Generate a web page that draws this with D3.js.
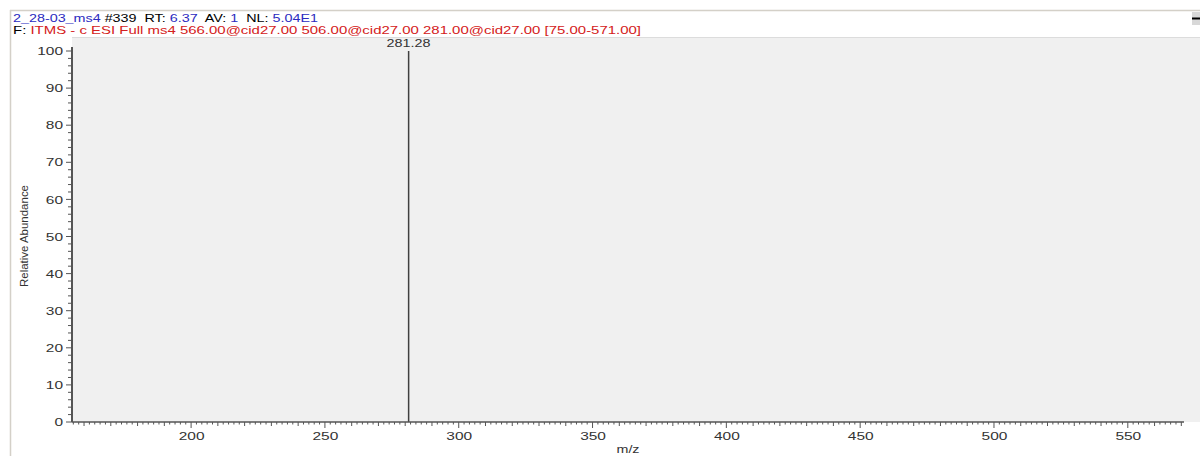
<!DOCTYPE html>
<html>
<head>
<meta charset="utf-8">
<script src="https://cdn.jsdelivr.net/npm/d3@7"></script>
<style>
  body { margin: 0; background: #fff; }
  svg { display: block; font-family: "Liberation Sans", Arial, sans-serif; }
</style>
</head>
<body>
<div id="chart"></div>
<script>
// spectrum data
const peakMz = [281.28];
const peakAbundance = [100];
const peakLabels = ["281.28"];
const xTicks = [200, 250, 300, 350, 400, 450, 500, 550];
const yTicks = [0, 10, 20, 30, 40, 50, 60, 70, 80, 90, 100];
const headerLine1 = [
  { t: "2_28-03_ms4", c: "#2b2bc0" }, { t: " #339  RT: ", c: "#000" }, { t: "6.37", c: "#2b2bc0" },
  { t: "  AV: ", c: "#000" }, { t: "1", c: "#2b2bc0" }, { t: "  NL: ", c: "#000" }, { t: "5.04E1", c: "#2b2bc0" }
];
const headerLine2 = [
  { t: "F: ", c: "#000" },
  { t: "ITMS - c ESI Full ms4 566.00@cid27.00 506.00@cid27.00 281.00@cid27.00 [75.00-571.00]", c: "#d42020" }
];

const width = 1200, height = 456;
const margin = { top: 37, right: 16, bottom: 34, left: 72 };
const charW = 8.6; // the original font is wide, so stretch labels

const svg = d3.select("#chart").append("svg")
  .attr("width", width).attr("height", height);

// frame
svg.append("line").attr("x1", 10.5).attr("x2", 10.5).attr("y1", 10).attr("y2", height)
  .attr("stroke", "#d4d0c8").attr("stroke-width", 1.5);
svg.append("line").attr("x1", 10).attr("x2", width).attr("y1", 10.5).attr("y2", 10.5)
  .attr("stroke", "#d4d0c8").attr("stroke-width", 1.5);
svg.append("rect").attr("x", 1192).attr("y", 12).attr("width", 8).attr("height", 13).attr("fill", "#d8d8d8");
svg.append("line").attr("x1", 1192).attr("x2", 1200).attr("y1", 18.5).attr("y2", 18.5).attr("stroke", "#000").attr("stroke-width", 2);

// header text
const h1 = svg.append("text").attr("x", 13).attr("y", 22).attr("font-size", 11.5)
  .attr("textLength", 305).attr("lengthAdjust", "spacingAndGlyphs");
h1.selectAll("tspan").data(headerLine1).join("tspan").attr("fill", d => d.c).attr("xml:space", "preserve").text(d => d.t);
const h2 = svg.append("text").attr("x", 13).attr("y", 34).attr("font-size", 11.5)
  .attr("textLength", 628).attr("lengthAdjust", "spacingAndGlyphs");
h2.selectAll("tspan").data(headerLine2).join("tspan").attr("fill", d => d.c).attr("xml:space", "preserve").text(d => d.t);

// plot background
svg.append("rect")
  .attr("x", margin.left).attr("y", margin.top)
  .attr("width", width - margin.left).attr("height", height - margin.bottom - margin.top)
  .attr("fill", "#f0f0f0");
svg.append("line").attr("x1", margin.left).attr("x2", width).attr("y1", margin.top + 0.5).attr("y2", margin.top + 0.5)
  .attr("stroke", "#dcdcdc");

const xScale = d3.scaleLinear()
  .domain([155.5, 571])
  .range([margin.left, width - margin.right]);

const yScale = d3.scaleLinear()
  .domain([0, 100])
  .range([422, 51]);

// peaks
svg.selectAll(".peak").data(peakMz).join("line")
  .attr("class", "peak")
  .attr("x1", d => xScale(d)).attr("x2", d => xScale(d))
  .attr("y1", yScale(0)).attr("y2", (d, i) => yScale(peakAbundance[i]))
  .attr("stroke", "#404040").attr("stroke-width", 1.5);

svg.selectAll(".plabel").data(peakMz).join("text")
  .attr("class", "plabel")
  .attr("x", d => xScale(d)).attr("y", (d, i) => yScale(peakAbundance[i]) - 4)
  .attr("text-anchor", "middle").attr("font-size", 11.5).attr("fill", "#333")
  .attr("textLength", 44).attr("lengthAdjust", "spacingAndGlyphs")
  .text((d, i) => peakLabels[i]);

// x axis
const axisColor = "#555";
const xg = svg.append("g").attr("transform", `translate(0, ${yScale(0)})`);
xg.append("line").attr("x1", margin.left).attr("x2", xScale(571)).attr("stroke", axisColor).attr("stroke-width", 1.5);
const xMinor = d3.range(156, 571, 2);
xg.selectAll(".xm").data(xMinor).join("line")
  .attr("x1", d => xScale(d)).attr("x2", d => xScale(d))
  .attr("y1", 0).attr("y2", d => d % 50 === 0 ? 6 : d % 10 === 0 ? 4 : 2.5)
  .attr("stroke", axisColor);
xg.call(g => g.append("g").call(d3.axisBottom(xScale).tickValues(xTicks).tickSize(0).tickPadding(10))
  .call(a => a.select(".domain").remove())
  .call(a => a.selectAll("text").attr("font-size", 11.5).attr("fill", "#333")
    .attr("font-family", "Liberation Sans, Arial, sans-serif")
    .attr("textLength", d => String(d).length * charW).attr("lengthAdjust", "spacingAndGlyphs")));

// y axis
const yg = svg.append("g").attr("transform", `translate(${margin.left}, 0)`);
yg.append("line").attr("y1", margin.top + 10).attr("y2", yScale(0)).attr("stroke", axisColor).attr("stroke-width", 2);
const yMinor = d3.range(0, 101, 2);
yg.selectAll(".ym").data(yMinor).join("line")
  .attr("y1", d => yScale(d)).attr("y2", d => yScale(d))
  .attr("x1", 0).attr("x2", d => d % 10 === 0 ? -6 : -4)
  .attr("stroke", axisColor);
yg.call(g => g.append("g").call(d3.axisLeft(yScale).tickValues(yTicks).tickSize(0).tickPadding(9))
  .call(a => a.select(".domain").remove())
  .call(a => a.selectAll("text").attr("font-size", 11.5).attr("fill", "#333")
    .attr("font-family", "Liberation Sans, Arial, sans-serif")
    .attr("textLength", d => String(d).length * charW).attr("lengthAdjust", "spacingAndGlyphs")));

// axis titles
svg.append("text")
  .attr("transform", `translate(28, 236) rotate(-90)`)
  .attr("text-anchor", "middle").attr("font-size", 11.5).attr("fill", "#333")
  .attr("textLength", 102).attr("lengthAdjust", "spacingAndGlyphs")
  .text("Relative Abundance");
svg.append("text")
  .attr("x", 628).attr("y", 453)
  .attr("text-anchor", "middle").attr("font-size", 11.5).attr("fill", "#333")
  .attr("textLength", 23).attr("lengthAdjust", "spacingAndGlyphs")
  .text("m/z");
</script>
</body>
</html>
